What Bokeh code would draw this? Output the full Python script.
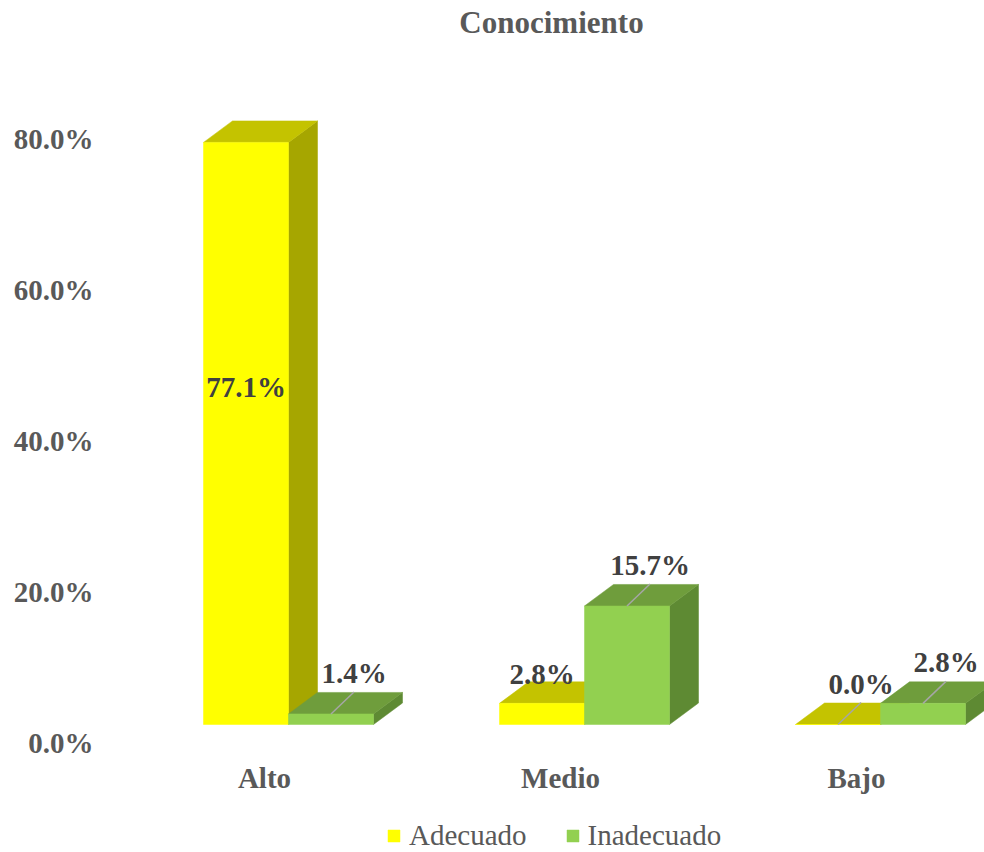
from bokeh.plotting import figure
from bokeh.models import Range1d, LinearAxis, FixedTicker, Legend, LegendItem, Label
from bokeh.core.properties import value
from bokeh.embed import file_html
from bokeh.resources import INLINE

# ---------------- data ----------------
title_text = "Conocimiento"
categories = ["Alto", "Medio", "Bajo"]
series_names = ["Adecuado", "Inadecuado"]
adecuado = [77.1, 2.8, 0.0]
inadecuado = [1.4, 15.7, 2.8]
y_ticks = [0, 20, 40, 60, 80]
y_tick_labels = ["0.0%", "20.0%", "40.0%", "60.0%", "80.0%"]

# ---------------- styling / geometry ----------------
W, H = 984, 852
FRAME_LEFT = 110
PX_PER_CAT = 296.0
PX_PER_PCT = 7.55
CAT0_PX = 288
ZERO_PX = 724
AXIS_ZERO_PX = 742
BAR_W = 85 / PX_PER_CAT
DX = 29 / PX_PER_CAT
DY = 21.5 / PX_PER_PCT

FONT = "Liberation Serif"
GRAY = "#595959"
DARK = "#404040"
colors = {
    "Adecuado": ("#FFFF00", "#C4C300", "#A6A600"),
    "Inadecuado": ("#92D050", "#6F9D3C", "#5E8A33"),
}

x0 = -(CAT0_PX - FRAME_LEFT) / PX_PER_CAT
x1 = x0 + (W - FRAME_LEFT) / PX_PER_CAT
y0 = -(H - ZERO_PX) / PX_PER_PCT
y1 = y0 + H / PX_PER_PCT
ax0 = -(H - AXIS_ZERO_PX) / PX_PER_PCT
ax1 = ax0 + H / PX_PER_PCT

p = figure(width=W, height=H, x_range=Range1d(x0, x1), y_range=Range1d(y0, y1),
           output_backend="svg", toolbar_location=None,
           x_axis_location=None, y_axis_location=None,
           min_border_left=FRAME_LEFT, min_border_right=0,
           min_border_top=0, min_border_bottom=0,
           outline_line_color=None, background_fill_color="white",
           border_fill_color="white")
p.grid.visible = False

p.extra_y_ranges = {"axis": Range1d(ax0, ax1)}
yaxis = LinearAxis(y_range_name="axis", ticker=FixedTicker(ticks=y_ticks),
                   major_label_overrides={t: l for t, l in zip(y_ticks, y_tick_labels)})
yaxis.axis_line_color = None
yaxis.major_tick_line_color = None
yaxis.minor_tick_line_color = None
yaxis.major_tick_out = 0
yaxis.major_tick_in = 0
yaxis.major_label_standoff = 17
yaxis.major_label_text_font = FONT
yaxis.major_label_text_font_style = "bold"
yaxis.major_label_text_font_size = "29px"
yaxis.major_label_text_color = GRAY
p.add_layout(yaxis, "left")

series_vals = [adecuado, inadecuado]
front_renderers = []
bar_info = []  # (series idx, cat idx, front center, value)
for s, (name, vals) in enumerate(zip(series_names, series_vals)):
    front_c, top_c, side_c = colors[name]
    lefts, rights, tops = [], [], []
    top_xs, top_ys, side_xs, side_ys = [], [], [], []
    for i, v in enumerate(vals):
        left = i - BAR_W if s == 0 else i
        right = left + BAR_W
        lefts.append(left); rights.append(right); tops.append(v)
        top_xs.append([left, right, right + DX, left + DX])
        top_ys.append([v, v, v + DY, v + DY])
        side_xs.append([right, right + DX, right + DX, right])
        side_ys.append([0, DY, v + DY, v])
        bar_info.append((s, i, (left + right) / 2, v))
    p.patches(side_xs, side_ys, fill_color=side_c, line_color=side_c, line_width=0.5)
    p.patches(top_xs, top_ys, fill_color=top_c, line_color=top_c, line_width=0.5)
    r = p.quad(left=lefts, right=rights, bottom=[0] * len(vals), top=tops,
               fill_color=front_c, line_color=front_c, line_width=0.5)
    front_renderers.append(r)

# ---------------- data labels ----------------
LEAD_X = 23 / PX_PER_CAT
LEAD_Y = 22 / PX_PER_PCT
LAB_ABOVE = 19 / PX_PER_PCT
lx, ly, lt = [], [], []
sx0, sy0, sx1, sy1 = [], [], [], []
for s, i, cx, v in bar_info:
    txt = f"{v:.1f}%"
    if v > 30:
        lx.append(cx); ly.append(v * 0.58); lt.append(txt)
        continue
    other = series_vals[1 - s][i]
    if s == 0 and other - v > 5:
        lx.append(cx); ly.append(v + 29 / PX_PER_PCT); lt.append(txt)
        continue
    ex, ey = cx + LEAD_X, v + LEAD_Y
    sx0.append(cx); sy0.append(v); sx1.append(ex); sy1.append(ey)
    lx.append(ex); ly.append(ey + LAB_ABOVE); lt.append(txt)

p.segment(sx0, sy0, sx1, sy1, line_color="#A6A6A6", line_width=1.5)
p.text(x=lx, y=ly, text=lt, text_font=value(FONT), text_font_style="bold",
       text_font_size="29px", text_color=DARK, text_align="center",
       text_baseline="middle")

# ---------------- category labels ----------------
cat_x = [i - 24 / PX_PER_CAT for i in range(len(categories))]
cat_y = [-(777 - ZERO_PX) / PX_PER_PCT] * len(categories)
p.text(x=cat_x, y=cat_y, text=categories, text_font=value(FONT),
       text_font_style="bold", text_font_size="29px", text_color=GRAY,
       text_align="center", text_baseline="middle")

# ---------------- title ----------------
title = Label(x=x0 + (551 - FRAME_LEFT) / PX_PER_CAT, y=y0 + (H - 22) / PX_PER_PCT,
              text=title_text, text_font=FONT, text_font_style="bold",
              text_font_size="31px", text_color=GRAY, text_align="center",
              text_baseline="middle")
p.add_layout(title)

# ---------------- legend ----------------
legend = Legend(items=[LegendItem(label=n, renderers=[r])
                       for n, r in zip(series_names, front_renderers)],
                orientation="horizontal", location=(276, 0),
                padding=0, margin=0, spacing=38, label_standoff=8,
                glyph_width=15, glyph_height=15,
                border_line_alpha=0, background_fill_alpha=0,
                label_text_font=FONT, label_text_font_size="29px",
                label_text_color=GRAY)
p.add_layout(legend)

open("out.html", "w").write(file_html(p, INLINE))
